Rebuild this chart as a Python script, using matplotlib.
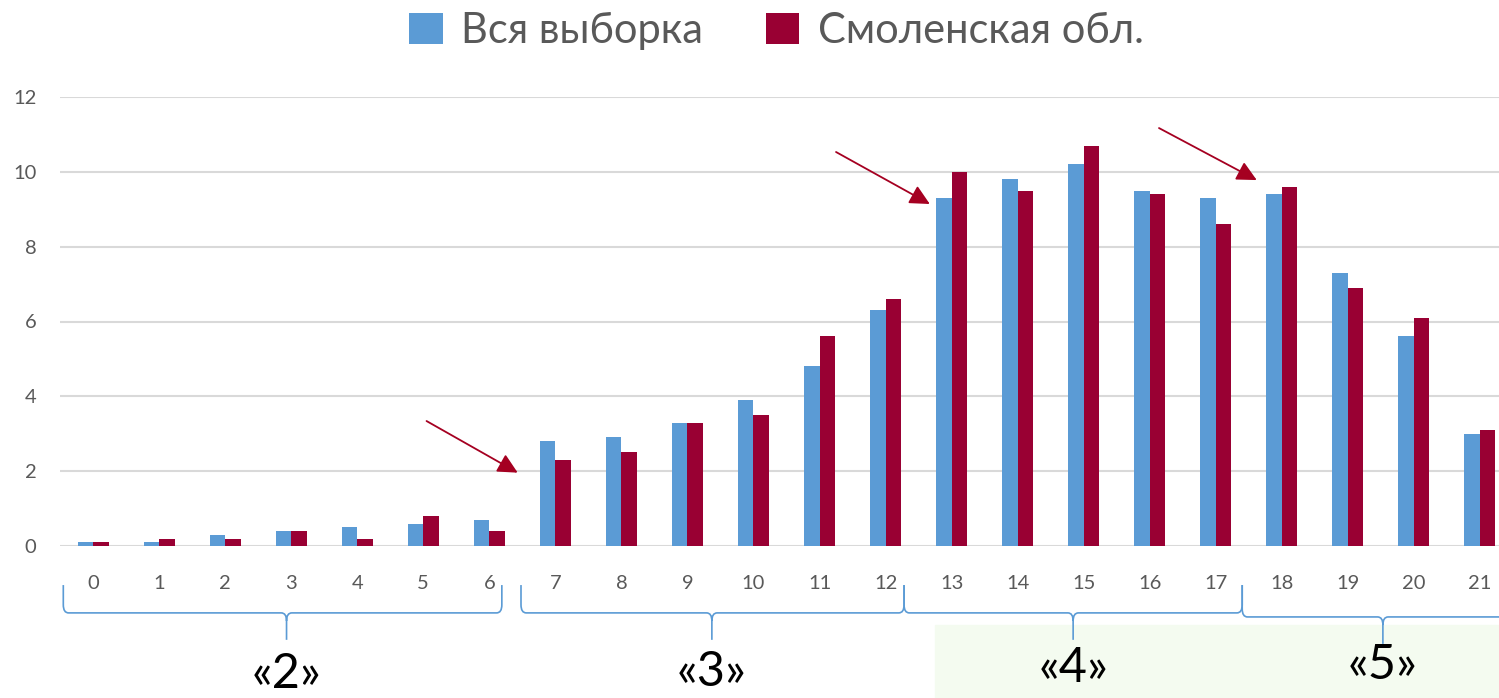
import matplotlib
matplotlib.use('Agg')
import matplotlib.pyplot as plt
from matplotlib.patches import Patch, Rectangle
from matplotlib.path import Path
from matplotlib.patches import PathPatch
import numpy as np

plt.rcParams['font.family'] = ['Lato', 'DejaVu Sans']

# data
scores = list(range(22))
all_sample = [0.1, 0.1, 0.3, 0.4, 0.5, 0.6, 0.7, 2.8, 2.9, 3.3, 3.9, 4.8, 6.3,
              9.3, 9.8, 10.2, 9.5, 9.3, 9.4, 7.3, 5.6, 3.0]
smolensk = [0.1, 0.2, 0.2, 0.4, 0.2, 0.8, 0.4, 2.3, 2.5, 3.3, 3.5, 5.6, 6.6,
            10.0, 9.5, 10.7, 9.4, 8.6, 9.6, 6.9, 6.1, 3.1]
series_names = ['Вся выборка', 'Смоленская обл.']

# grade groups: (left, right, middle) in category units
grade_labels = ['«2»', '«3»', '«4»', '«5»']
grade_spans = [(-0.45, 6.19, 2.93), (6.48, 12.28, 9.37),
               (12.28, 17.40, 14.84), (17.40, 21.8, 19.53)]

# arrows (start -> tip) in data units
arrows = [((5.05, 3.34), (6.43, 1.96)),
          ((11.25, 10.53), (12.67, 9.14)),
          ((16.14, 11.17), (17.62, 9.78))]

blue = '#5b9bd5'
red = '#990033'
grey = '#595959'

W, H = 1499, 698
fig = plt.figure(figsize=(W / 100, H / 100), dpi=100)

# faint green background patch bottom right
fig.patches.append(Rectangle((935 / W, 0), (W - 935) / W, (698 - 625) / H,
                             transform=fig.transFigure, color='#f4fbf0',
                             zorder=-5))

ax = fig.add_axes([60 / W, (H - 546) / H, (1513 - 60) / W, 449 / H])
ax.patch.set_alpha(0)

x = np.arange(len(scores))
bw = 0.235
ax.bar(x - bw / 2, all_sample, bw, color=blue, zorder=3)
ax.bar(x + bw / 2, smolensk, bw, color=red, zorder=3)

ax.set_xlim(-0.5, 21.5)
ax.set_ylim(0, 12)
ax.set_yticks(range(0, 13, 2))
ax.set_xticks(x)
ax.set_xticklabels([str(s) for s in scores])
ax.grid(axis='y', color='#d9d9d9', linewidth=1.5, zorder=0)
for s in ax.spines.values():
    s.set_visible(False)
ax.tick_params(length=0, labelsize=14.5, colors=grey)
ax.tick_params(axis='x', pad=21)
ax.tick_params(axis='y', pad=17)

for (x0, y0), (x1, y1) in arrows:
    ax.annotate('', xy=(x1, y1), xytext=(x0, y0),
                arrowprops=dict(arrowstyle='-|>', color='#a50021', lw=1.3,
                                mutation_scale=30, shrinkA=0, shrinkB=0),
                zorder=5)

# curly braces under the axis
tr = ax.get_xaxis_transform()
ytop, ymid, ytip = -0.087, -0.149, -0.209
dx, dy = 0.08, 0.018
for i, (l, r, m) in enumerate(grade_spans):
    off = -0.009 if i == 3 else 0.0
    ym = ymid + off
    verts = [(l, ytop), (l, ym + dy), (l, ym), (l + dx, ym),
             (m - dx, ym), (m, ym), (m, ym - dy), (m, ytip + off),
             (m, ym - dy), (m, ym), (m + dx, ym),
             (r - dx, ym), (r, ym), (r, ym + dy), (r, ytop)]
    codes = [Path.MOVETO, Path.LINETO, Path.CURVE3, Path.CURVE3,
             Path.LINETO, Path.CURVE3, Path.CURVE3, Path.LINETO,
             Path.MOVETO, Path.CURVE3, Path.CURVE3,
             Path.LINETO, Path.CURVE3, Path.CURVE3, Path.LINETO]
    ax.add_patch(PathPatch(Path(verts, codes), transform=tr, fill=False,
                           edgecolor=blue, lw=1.2, clip_on=False, zorder=4))

label_y = [-0.284, -0.28, -0.272, -0.265]
for (l, r, m), lab, ly in zip(grade_spans, grade_labels, label_y):
    ax.text(m, ly, lab, transform=tr, ha='center', va='center',
            fontsize=35, color='black', zorder=6)

handles = [Patch(facecolor=blue), Patch(facecolor=red)]
fig.legend(handles, series_names, loc='center', ncol=2,
           bbox_to_anchor=(0.518, 1 - 31 / H), frameon=False,
           fontsize=30, labelcolor=grey, handlelength=0.8, handleheight=0.8,
           handletextpad=0.45, columnspacing=1.5)

fig.savefig('out.png', dpi=100)
